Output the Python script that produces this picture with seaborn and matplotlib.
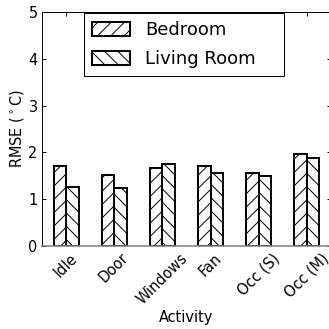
import matplotlib
matplotlib.use("Agg")
import matplotlib.pyplot as plt
import seaborn as sns
import pandas as pd

activities = ["Idle", "Door", "Windows", "Fan", "Occ (S)", "Occ (M)"]
bedroom = [1.71, 1.52, 1.67, 1.72, 1.57, 1.96]
living_room = [1.25, 1.24, 1.76, 1.57, 1.50, 1.89]
rooms = ["Bedroom", "Living Room"]
hatches = ["//", "\\\\"]

df = pd.DataFrame({
    "Activity": activities * 2,
    "RMSE": bedroom + living_room,
    "Room": [rooms[0]] * len(activities) + [rooms[1]] * len(activities),
})

DPI = 80
sns.set_style("ticks")
plt.rcParams["font.family"] = ["DejaVu Sans"]
plt.rcParams["hatch.linewidth"] = 0.9
plt.rcParams["mathtext.default"] = "regular"
for key in ["text.color", "axes.labelcolor", "xtick.color", "ytick.color"]:
    plt.rcParams[key] = "black"

fig = plt.figure(figsize=(329 / DPI, 329 / DPI), dpi=DPI)
ax = fig.add_axes([0.1277, 0.2523, 0.878, 0.7112])

sns.barplot(data=df, x="Activity", y="RMSE", hue="Room", order=activities,
            hue_order=rooms, palette=["white", "white"], width=0.52,
            edgecolor="black", linewidth=1.8, saturation=1, ax=ax,
            errorbar=None)

for container, h in zip(ax.containers, hatches):
    for bar in container:
        bar.set_hatch(h)
        bar.set_facecolor("white")
        bar.set_edgecolor("black")

ax.set_ylim(0, 5)
ax.set_xlim(-0.5, len(activities) - 0.5)
ax.set_yticks(range(6))
ax.set_ylabel(r"RMSE ($^\circ$C)", fontsize=13.1, labelpad=2)
ax.set_xlabel("Activity", fontsize=13.1, labelpad=3)
ax.tick_params(axis="both", direction="in", length=3.6, width=0.9,
               labelsize=13.1, top=True, right=True, bottom=True, pad=4,
               colors="black")
plt.setp(ax.get_xticklabels(), rotation=45, ha="center")

for side in ["left", "top", "right"]:
    ax.spines[side].set_color("black")
    ax.spines[side].set_linewidth(0.9)
ax.spines["bottom"].set_color("gray")
ax.spines["bottom"].set_linewidth(1.4)

leg = ax.legend(loc="upper left", bbox_to_anchor=(0.145, 0.0, 0.692, 0.995),
                mode="expand", fontsize=16.2, frameon=True, fancybox=False,
                borderaxespad=0.0, borderpad=0.45, handlelength=2.1,
                handleheight=0.78, handletextpad=0.85, labelspacing=0.6,
                edgecolor="black", framealpha=1)
leg.get_frame().set_linewidth(0.9)
for text in leg.get_texts():
    text.set_color("black")
for patch, h in zip(leg.get_patches(), hatches):
    patch.set_hatch(h)
    patch.set_facecolor("white")
    patch.set_edgecolor("black")
    patch.set_linewidth(1.8)

fig.savefig("out.png", dpi=DPI)
